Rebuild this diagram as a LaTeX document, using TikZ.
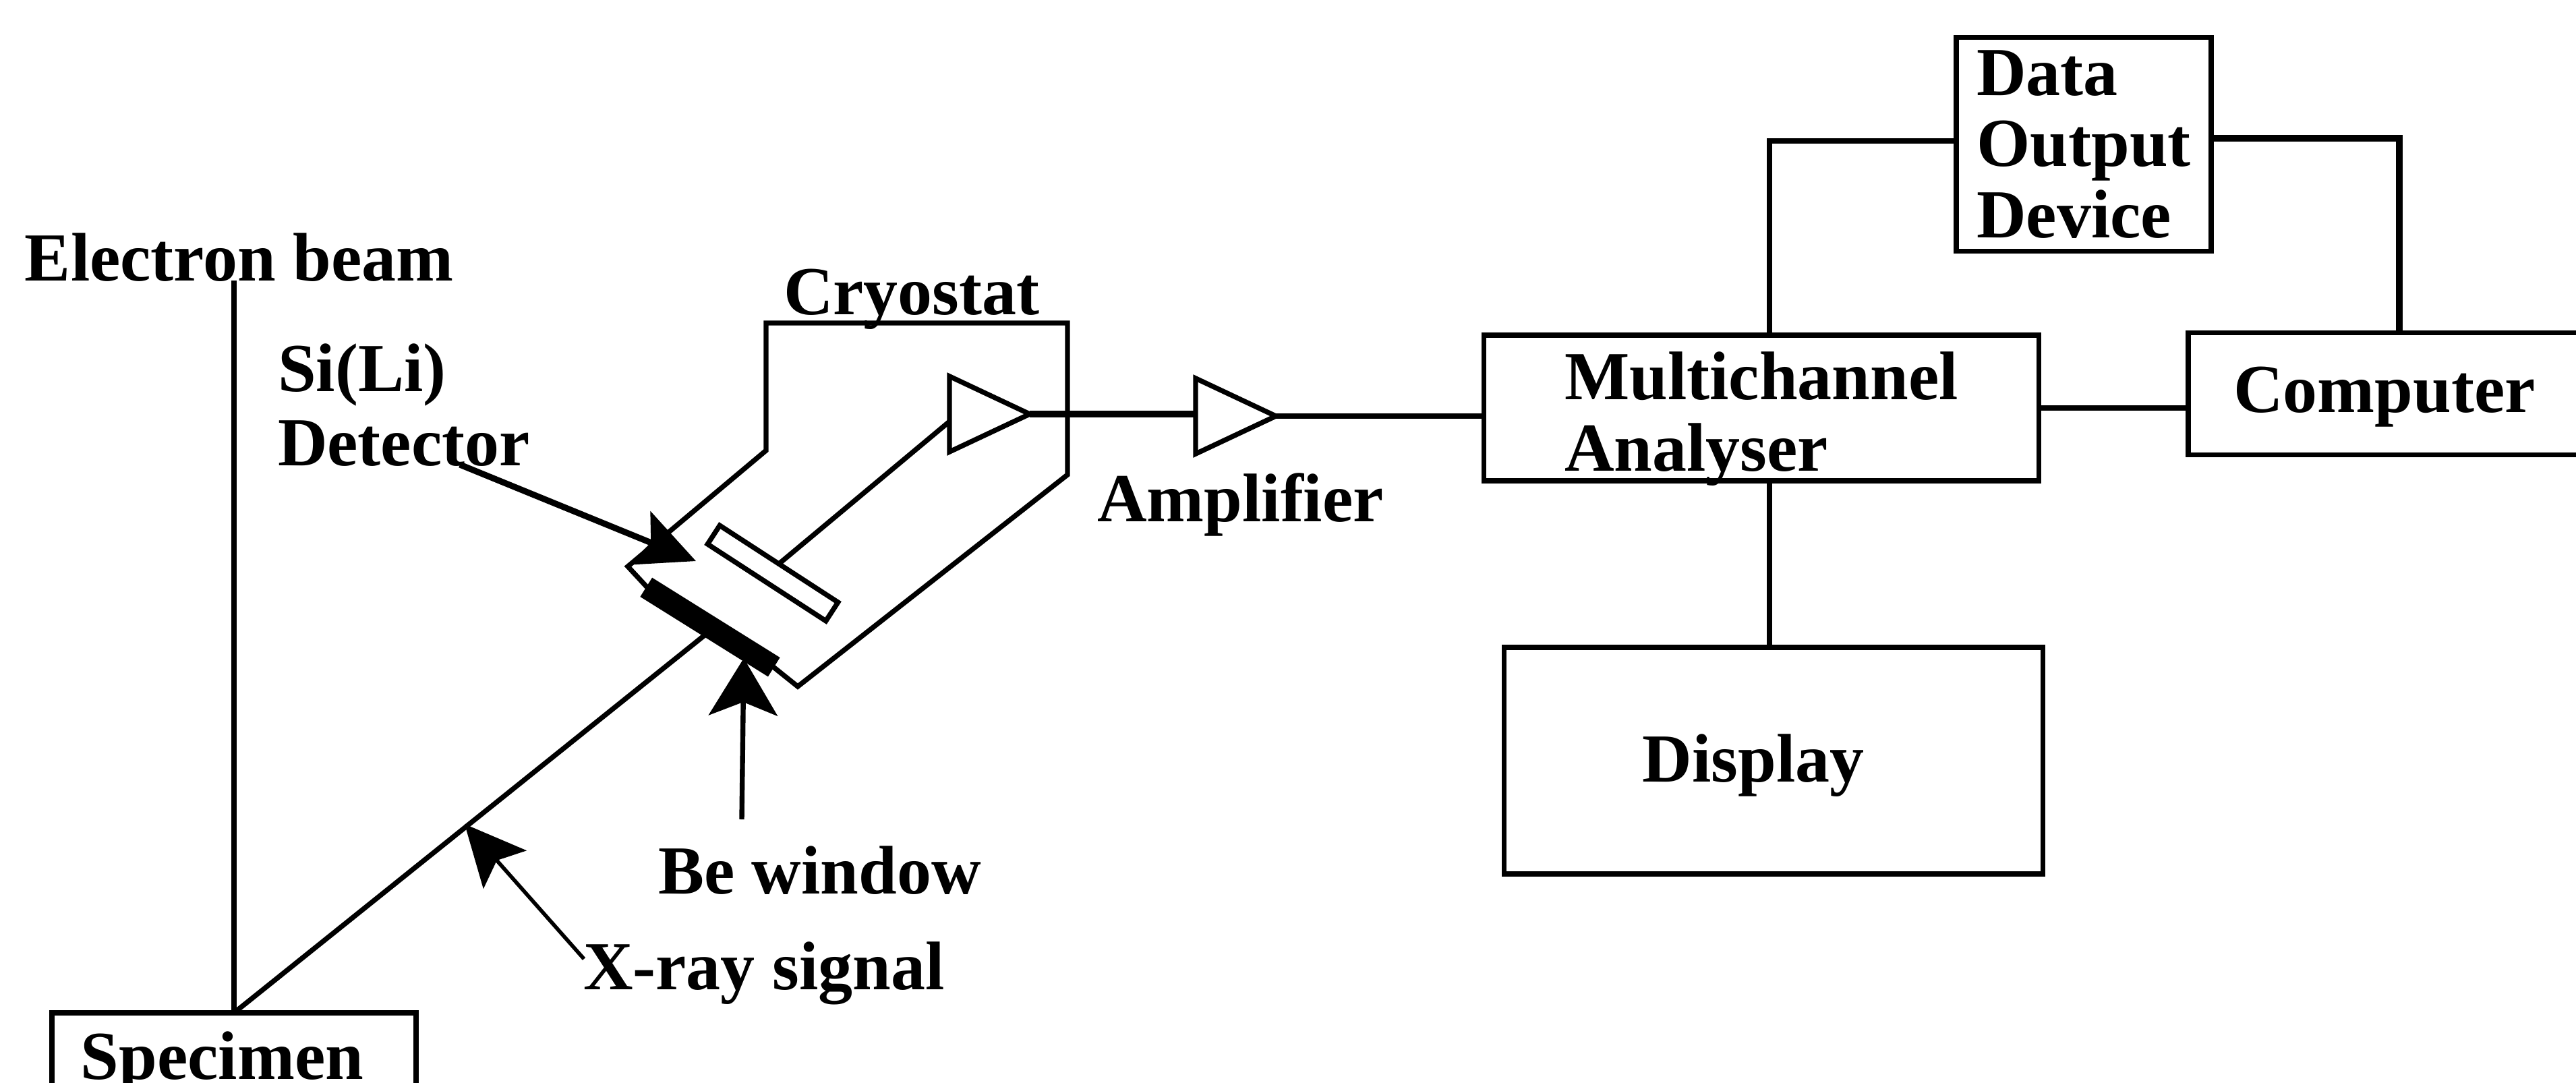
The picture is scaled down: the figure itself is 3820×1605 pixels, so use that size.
\documentclass[tikz,border=0pt]{standalone}
\usepackage{fontspec}
\setmainfont{Liberation Serif}
\usetikzlibrary{arrows.meta,shapes.geometric}

\begin{document}
\begin{tikzpicture}[x=0.01cm,y=-0.01cm,line width=2.1pt,
    every node/.style={font=\bfseries\fontsize{29}{30}\selectfont,inner sep=0pt,outer sep=0pt},
    lbl/.style={anchor=base west},
    boxnode/.style={draw,rectangle,align=left},
    ampnode/.style={draw,isosceles triangle,isosceles triangle stretches,anchor=apex,minimum width=1.12cm,minimum height=1.19cm},
    ptr/.style={-{Stealth[length=0.9cm,width=0.85cm,inset=0.18cm]}}]
  \useasboundingbox (0,0) rectangle (3820,1605);
  \node[boxnode,minimum width=5.40cm,minimum height=1.48cm,text width=4.54cm] (specimen) at (347,1576) {Specimen};
  \node[boxnode,minimum width=8.22cm,minimum height=2.16cm,text height=1.86cm,text depth=0cm] (mca) at (2612,605) {Multichannel\\Analyser};
  \node[boxnode,minimum width=3.78cm,minimum height=3.17cm] (dod) at (3090,214) {Data\\Output\\Device};
  \node[boxnode,minimum width=5.82cm,minimum height=1.81cm,text height=0.76cm] (computer) at (3536,584) {Computer};
  \node[boxnode,minimum width=7.99cm,minimum height=3.36cm,text width=3.88cm,text height=0.84cm] (display) at (2630,1128) {Display};
  \node[lbl] (ebeam) at (37,416) {Electron beam};
  \node[lbl] (cryolbl) at (1162,466) {Cryostat};
  \node[lbl] (silbl) at (412,580) {Si(Li)};
  \node[lbl] (detlbl) at (412,690) {Detector};
  \node[lbl] (amplbl) at (1627,773) {Amplifier};
  \node[lbl] (belbl) at (976,1325) {Be window};
  \node[lbl] (xlbl) at (865,1467) {X-ray signal};
  \node[draw,fill=black,minimum width=2.16cm,minimum height=0.26cm,rotate=-32] (window) at (1053,930) {};
  \node[draw,minimum width=2.09cm,minimum height=0.33cm,rotate=-33] (detector) at (1146,850) {};
  \foreach \nm/\ax/\ay in {amp1/1527/614,amp2/1892/617}{
    \node[ampnode] (\nm) at (\ax,\ay) {};}
  \coordinate (amp1in) at (1408,625);
  \coordinate (sitail) at (682,689);
  \coordinate (sitip) at (1032,832);
  \coordinate (betail) at (1100,1215);
  \coordinate (betip) at (1103,976);
  \coordinate (xtail) at (866,1422);
  \coordinate (xtip) at (689,1222);
  \draw (window.west) -- (931,840) -- (1136,668) -- (1136,479) -- (1583,479) -- (1583,704) -- (1183,1018) -- (window.east);
  \draw (specimen.north) -- (specimen.north |- ebeam.base);
  \draw (specimen.north) -- (window.south);
  \draw (detector.north) -- (amp1in);
  \draw[line width=3pt] (amp1.apex) -- (amp1.apex -| amp2.west);
  \draw (amp2.apex) -- (amp2.apex -| mca.west);
  \draw ([xshift=0.12cm]mca.north) |- ([yshift=0.05cm]dod.west);
  \draw[line width=2.6pt] ([yshift=0.09cm]dod.east) -| ([xshift=0.22cm]computer.north);
  \draw (mca.east) -- (mca.east -| computer.west);
  \draw ([xshift=0.12cm]mca.south) -- ([xshift=0.12cm]mca.south |- display.north);
  \draw[ptr,line width=2.6pt] (sitail) -- (sitip);
  \draw[ptr,-{Stealth[length=0.85cm,width=1.02cm,inset=0.2cm]}] (betail) -- (betip);
  \draw[ptr,line width=1.6pt] (xtail) -- (xtip);
\end{tikzpicture}
\end{document}
